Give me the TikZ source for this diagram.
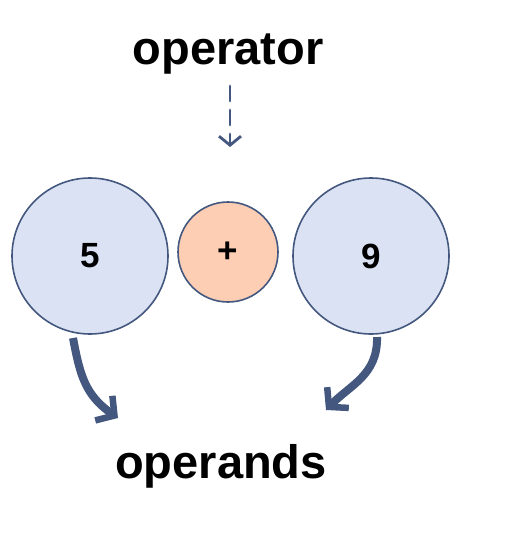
\documentclass[tikz,border=0pt]{standalone}
\usepackage{fontspec}
\setmainfont{Liberation Sans}
\usetikzlibrary{arrows.meta}
\definecolor{edgeblue}{HTML}{44577F}
\definecolor{fillblue}{HTML}{DAE2F3}
\definecolor{fillpeach}{HTML}{FDCDB4}
\begin{document}
\begin{tikzpicture}[x=1pt,y=-1pt,
  operand/.style={circle,draw=edgeblue,line width=1.6pt,fill=fillblue,minimum size=156pt,inner sep=0pt,font=\fontsize{35}{35}\selectfont\bfseries},
  opnode/.style={circle,draw=edgeblue,line width=1.6pt,fill=fillpeach,minimum size=100pt,inner sep=0pt,font=\fontsize{35}{35}\selectfont\bfseries},
  label/.style={font=\fontsize{47}{47}\selectfont\bfseries,inner sep=0pt},
  bigarrow/.style={draw=edgeblue,line width=8pt,-{Straight Barb[length=13pt,width=30pt,line width=6.5pt]}},
  dasharrow/.style={draw=edgeblue,line width=2.8pt,dash pattern=on 15pt off 9pt,line cap=round,-{Straight Barb[length=9pt,width=22pt,line width=2.8pt]}}]
\useasboundingbox (0,0) rectangle (506,548);
\node[operand] (five) at (90,256) {5};
\node[opnode] (plus) at (228,252) {+};
\node[operand] (nine) at (371,256) {9};
\node[label] (operator) at (228,54) {operator};
\node[label] (operands) at (221,466) {operands};
\coordinate (dtop) at (230,86);
\coordinate (dtip) at (230,147);
\draw[dasharrow] (dtop) -- (dtip);
\coordinate (ls) at (73,338);
\coordinate (le) at (118,418);
\draw[bigarrow] (ls) .. controls (80,375) and (85,395) .. (le);
\coordinate (rs) at (377,337);
\coordinate (re) at (326,410);
\draw[bigarrow] (rs) .. controls (378,375) and (350,385) .. (re);
\end{tikzpicture}
\end{document}
